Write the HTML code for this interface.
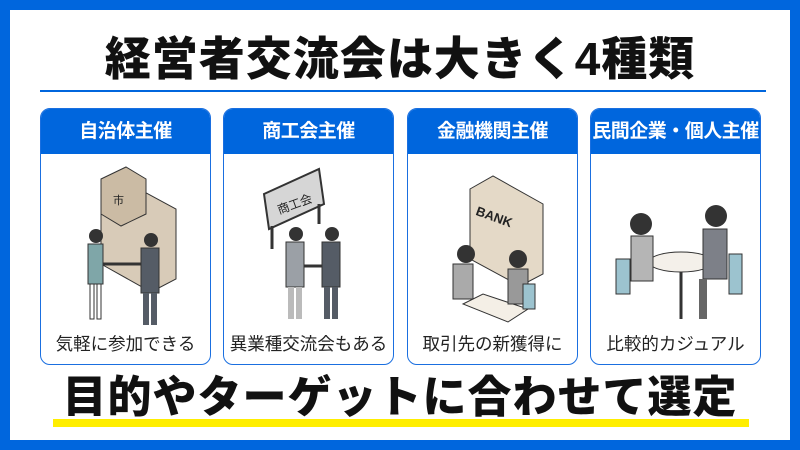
<!DOCTYPE html>
<html><head><meta charset="utf-8"><style>
*{margin:0;padding:0;box-sizing:border-box}
body{width:800px;height:450px;background:#0066dd;position:relative;overflow:hidden;font-family:"Liberation Sans","Noto Sans CJK JP",sans-serif}
.inner{position:absolute;left:10px;top:10px;width:780px;height:430px;background:#fff}
.title{position:absolute;left:0;top:31px;width:800px;text-align:center;font-size:46px;font-weight:900;color:#111;line-height:56px;letter-spacing:1px}
.tl{position:absolute;left:40px;top:90px;width:726px;height:2px;background:#0066dd}
.card{position:absolute;top:108px;width:171px;height:257px;border:1.5px solid #1a6fe0;border-radius:10px;overflow:hidden;background:#fff}
.hd{height:45px;background:#0066dd;color:#fff;font-weight:bold;font-size:19px;text-align:center;line-height:45px;white-space:nowrap;letter-spacing:-0.5px}
.cap{position:absolute;left:0;right:0;top:222px;text-align:center;font-size:17.5px;color:#222;white-space:nowrap}
.card svg{position:absolute;left:0;top:45px}
.yl{position:absolute;left:53px;top:419px;width:696px;height:8px;background:#ffee00}
.bt{position:absolute;left:0;top:370px;width:800px;text-align:center;font-size:44px;font-weight:900;color:#111;line-height:56px;letter-spacing:1px}
</style></head><body>
<div class="inner"></div>
<div class="title">経営者交流会は大きく4種類</div>
<div class="tl"></div>

<div class="card" style="left:40px"><div class="hd">自治体主催</div>
<svg width="171" height="175" viewBox="0 0 171 175">
<polygon points="60,40 85,28 135,55 135,125 110,138 60,110" fill="#d8cbb8" stroke="#333"/>
<polygon points="60,25 85,13 105,25 105,60 80,72 60,60" fill="#cbbba4" stroke="#333"/>
<text x="72" y="50" font-size="11" fill="#222">市</text>
<circle cx="55" cy="82" r="7" fill="#333"/><rect x="47" y="90" width="15" height="40" fill="#7fa6a8" stroke="#333"/>
<rect x="49" y="130" width="4" height="35" fill="#fff" stroke="#333"/><rect x="56" y="130" width="4" height="35" fill="#fff" stroke="#333"/>
<circle cx="110" cy="86" r="7" fill="#333"/><rect x="100" y="94" width="18" height="45" fill="#555c66" stroke="#333"/>
<rect x="102" y="139" width="6" height="32" fill="#555c66"/><rect x="110" y="139" width="6" height="32" fill="#555c66"/>
<line x1="62" y1="110" x2="100" y2="110" stroke="#333" stroke-width="3"/>
</svg>
<div class="cap">気軽に参加できる</div></div>

<div class="card" style="left:223px"><div class="hd">商工会主催</div>
<svg width="171" height="175" viewBox="0 0 171 175">
<polygon points="40,40 95,15 100,50 45,75" fill="#d6d6d6" stroke="#333" stroke-width="2"/>
<text x="52" y="58" font-size="12" fill="#222" transform="rotate(-20 60 50)">商工会</text>
<line x1="48" y1="72" x2="48" y2="95" stroke="#333" stroke-width="3"/><line x1="95" y1="50" x2="95" y2="70" stroke="#333" stroke-width="3"/>
<circle cx="72" cy="80" r="7" fill="#333"/><rect x="62" y="88" width="18" height="45" fill="#9ba0a6" stroke="#333"/>
<rect x="64" y="133" width="6" height="32" fill="#bbb"/><rect x="72" y="133" width="6" height="32" fill="#bbb"/>
<circle cx="108" cy="80" r="7" fill="#333"/><rect x="98" y="88" width="18" height="45" fill="#555c66" stroke="#333"/>
<rect x="100" y="133" width="6" height="32" fill="#555c66"/><rect x="108" y="133" width="6" height="32" fill="#555c66"/>
<line x1="80" y1="112" x2="98" y2="112" stroke="#333" stroke-width="3"/>
</svg>
<div class="cap">異業種交流会もある</div></div>

<div class="card" style="left:407px"><div class="hd">金融機関主催</div>
<svg width="171" height="175" viewBox="0 0 171 175">
<polygon points="62,35 85,22 135,50 135,120 112,132 62,105" fill="#e4d9c7" stroke="#333"/>
<text x="68" y="65" font-size="13" font-weight="bold" fill="#222" transform="rotate(20 80 60)">BANK</text>
<polygon points="55,150 75,140 120,155 100,168" fill="#f4efe6" stroke="#333"/>
<circle cx="58" cy="100" r="9" fill="#333"/><rect x="45" y="110" width="20" height="35" fill="#aaa" stroke="#333"/>
<circle cx="110" cy="105" r="9" fill="#333"/><rect x="100" y="115" width="20" height="35" fill="#999" stroke="#333"/>
<rect x="115" y="130" width="12" height="25" fill="#9cc3cf" stroke="#333"/>
</svg>
<div class="cap">取引先の新獲得に</div></div>

<div class="card" style="left:590px"><div class="hd">民間企業・個人主催</div>
<svg width="171" height="175" viewBox="0 0 171 175">
<ellipse cx="90" cy="108" rx="32" ry="10" fill="#f4f0ea" stroke="#333"/>
<line x1="90" y1="118" x2="90" y2="165" stroke="#333" stroke-width="3"/>
<circle cx="50" cy="70" r="11" fill="#333"/><rect x="40" y="82" width="22" height="45" fill="#b5b5b5" stroke="#333"/>
<rect x="25" y="105" width="14" height="35" fill="#9cc3cf" stroke="#333"/>
<circle cx="125" cy="62" r="11" fill="#333"/><rect x="112" y="75" width="24" height="50" fill="#7d8088" stroke="#333"/>
<rect x="138" y="100" width="13" height="40" fill="#9cc3cf" stroke="#333"/>
<rect x="108" y="125" width="8" height="40" fill="#666"/>
</svg>
<div class="cap">比較的カジュアル</div></div>

<div class="yl"></div>
<div class="bt">目的やターゲットに合わせて選定</div>
</body></html>
